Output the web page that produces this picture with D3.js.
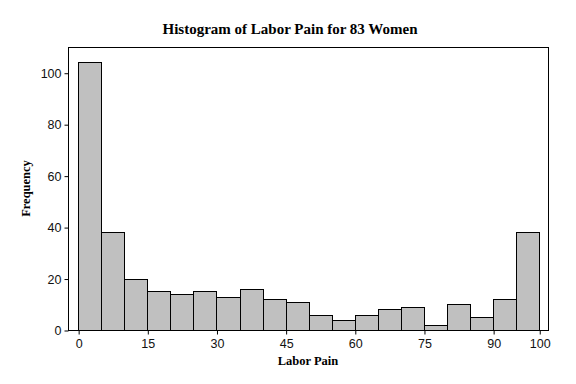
<!DOCTYPE html>
<html>
<head>
<meta charset="utf-8">
<script src="https://cdn.jsdelivr.net/npm/d3@7"></script>
<style>
  body { margin: 0; background: #fff; }
  svg { display: block; }
</style>
</head>
<body>
<script>
// bins of width 5 on 0..100
var binStarts = [0,5,10,15,20,25,30,35,40,45,50,55,60,65,70,75,80,85,90,95];
var counts = [104,38,20,15,14,15,13,16,12,11,6,4,6,8,9,2,10,5,12,38];
var xTicks = [0,15,30,45,60,75,90,100];
var yTicks = [0,20,40,60,80,100];

var width = 576, height = 384;
var plotLeft = 68, plotRight = 548, plotTop = 47, plotBottom = 330;

var svg = d3.select("body").append("svg").attr("width", width).attr("height", height);

var x = d3.scaleLinear().domain([-2.2, 101.9]).range([plotLeft, plotRight]);
var y = d3.scaleLinear().domain([0, 110]).range([plotBottom, plotTop]);

// frame
svg.append("rect")
    .attr("x", plotLeft + 0.5).attr("y", plotTop + 0.5)
    .attr("width", plotRight - plotLeft).attr("height", plotBottom - plotTop)
    .attr("fill", "none").attr("stroke", "#000").attr("stroke-width", 1);

// bars
svg.selectAll("rect.bar")
    .data(counts)
    .enter().append("rect")
    .attr("class", "bar")
    .attr("x", function (d, i) { return Math.round(x(binStarts[i])) + 0.5; })
    .attr("width", function (d, i) { return Math.round(x(binStarts[i] + 5)) - Math.round(x(binStarts[i])); })
    .attr("y", function (d) { return Math.round(y(d)) + 0.5; })
    .attr("height", function (d) { return Math.round(y(0)) - Math.round(y(d)); })
    .attr("fill", "#c0c0c0")
    .attr("stroke", "#000")
    .attr("stroke-width", 1);

// axes
var xAxis = d3.axisBottom(x).tickValues(xTicks).tickSize(4).tickSizeOuter(0);
var gx = svg.append("g").attr("transform", "translate(0.5," + (plotBottom + 0.5) + ")").call(xAxis);
gx.select(".domain").remove();
gx.selectAll("text").attr("dy", "0").attr("y", 17)
    .style("font-family", "Liberation Sans, Arial, sans-serif").style("font-size", "12.5px").attr("fill", "#111");

var yAxis = d3.axisLeft(y).tickValues(yTicks).tickSize(4).tickSizeOuter(0);
var gy = svg.append("g").attr("transform", "translate(" + (plotLeft + 0.5) + ",0.5)").call(yAxis);
gy.select(".domain").remove();
gy.selectAll("text").attr("x", -7)
    .style("font-family", "Liberation Sans, Arial, sans-serif").style("font-size", "12.5px").attr("fill", "#111");

// titles
svg.append("text")
    .attr("x", 290).attr("y", 34)
    .attr("text-anchor", "middle")
    .style("font-family", "Liberation Serif, Times New Roman, serif")
    .style("font-weight", "bold").style("font-size", "15px")
    .text("Histogram of Labor Pain for 83 Women");

svg.append("text")
    .attr("x", (plotLeft + plotRight) / 2).attr("y", 365)
    .attr("text-anchor", "middle")
    .style("font-family", "Liberation Serif, Times New Roman, serif")
    .style("font-weight", "bold").style("font-size", "12.5px")
    .text("Labor Pain");

svg.append("text")
    .attr("transform", "translate(30," + ((plotTop + plotBottom) / 2) + ") rotate(-90)")
    .attr("text-anchor", "middle")
    .style("font-family", "Liberation Serif, Times New Roman, serif")
    .style("font-weight", "bold").style("font-size", "12.5px")
    .text("Frequency");
</script>
</body>
</html>
